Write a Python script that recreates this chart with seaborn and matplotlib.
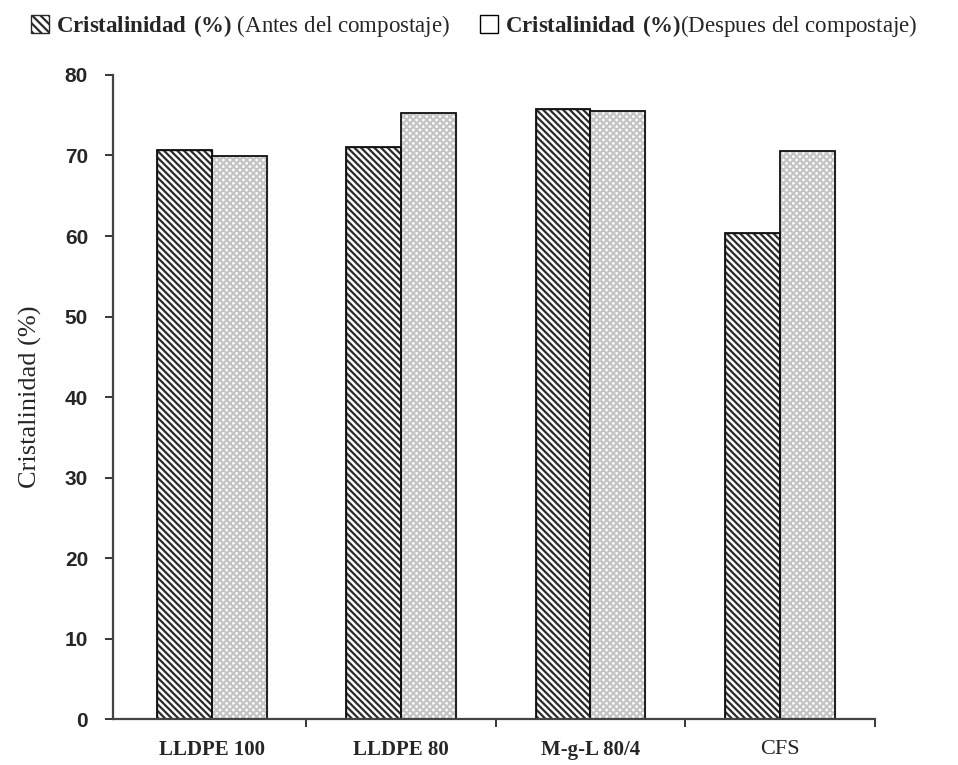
import pandas as pd
import numpy as np
import seaborn as sns
import matplotlib.pyplot as plt
from matplotlib.patches import Patch

muestras = ['LLDPE 100', 'LLDPE 80', 'M-g-L 80/4', 'CFS']
antes = [70.7, 71.0, 75.8, 60.4]
despues = [69.9, 75.3, 75.5, 70.6]
series = [r'$\mathbf{Cristalinidad\ (\%)}$ (Antes del compostaje)',
          r'$\mathbf{Cristalinidad\ (\%)}$(Despues del compostaje)']
yticks = [0, 10, 20, 30, 40, 50, 60, 70, 80]

df = pd.DataFrame({
    'muestra': muestras * 2,
    'valor': antes + despues,
    'serie': [series[0]] * 4 + [series[1]] * 4,
})

sns.set_style('white')
plt.rcParams['mathtext.fontset'] = 'custom'
plt.rcParams['mathtext.rm'] = 'Liberation Serif'
plt.rcParams['mathtext.bf'] = 'Liberation Serif:bold'
plt.rcParams['hatch.linewidth'] = 1.6

fig = plt.figure(figsize=(9.58, 7.65), dpi=100)
ax = fig.add_axes([0.118, 0.06, 0.795, 0.842])

sns.barplot(data=df, x='muestra', y='valor', hue='serie', ax=ax,
            width=0.58, palette=['white', 'white'], edgecolor='black',
            linewidth=1.0, saturation=1, legend=False)

hatches = ['\\\\\\\\\\', 'xxxxx']
for i, bar in enumerate(ax.patches[:8]):
    bar.set_hatch(hatches[i // 4])
    if i < 4:
        bar.set_edgecolor('#2a2a2a')
    else:
        bar.set_edgecolor('#c4c4c4')
        bar.set_facecolor('white')

# contorno negro por encima del sombreado
for bar in ax.patches[:8]:
    x, y = bar.get_xy()
    ax.add_patch(plt.Rectangle((x, y), bar.get_width(), bar.get_height(),
                               fill=False, edgecolor='#111111', linewidth=1.3))

ax.set_xlim(-0.52, 3.5)
ax.set_ylim(0, 80)
ax.set_yticks(yticks)
ax.set_yticklabels([str(t) for t in yticks], fontweight='bold',
                   fontfamily='Liberation Sans', fontsize=15)
ax.set_xticks([0.5, 1.5, 2.5, 3.5])
ax.set_xticklabels([])
for i, m in enumerate(muestras):
    ax.text(i, -2.6, m, ha='center', va='top',
            fontsize=15 if m != 'CFS' else 16,
            fontweight='bold' if m != 'CFS' else 'normal',
            family='Liberation Serif')
ax.tick_params(axis='y', direction='out', length=6, width=1.3, left=True, pad=12)
ax.tick_params(axis='x', direction='out', length=6, width=1.3, bottom=True)
ax.set_xlabel('')
ax.set_ylabel('Cristalinidad (%)', fontsize=19, family='Liberation Serif', labelpad=16)

sns.despine(ax=ax, top=True, right=True)
for s in ['left', 'bottom']:
    ax.spines[s].set_color('#444444')
    ax.spines[s].set_linewidth(1.6)

handles = [Patch(facecolor='white', edgecolor='#2a2a2a', hatch='\\\\\\\\'),
           Patch(facecolor='white', edgecolor='black')]
fig.legend(handles, series, loc='upper center', bbox_to_anchor=(0.495, 1.01),
           ncol=2, frameon=False, handlelength=0.8,
           handleheight=0.8, handletextpad=0.3, columnspacing=1.3,
           prop={'family': 'Liberation Serif', 'size': 16.5})

fig.savefig('out.png', dpi=100)
